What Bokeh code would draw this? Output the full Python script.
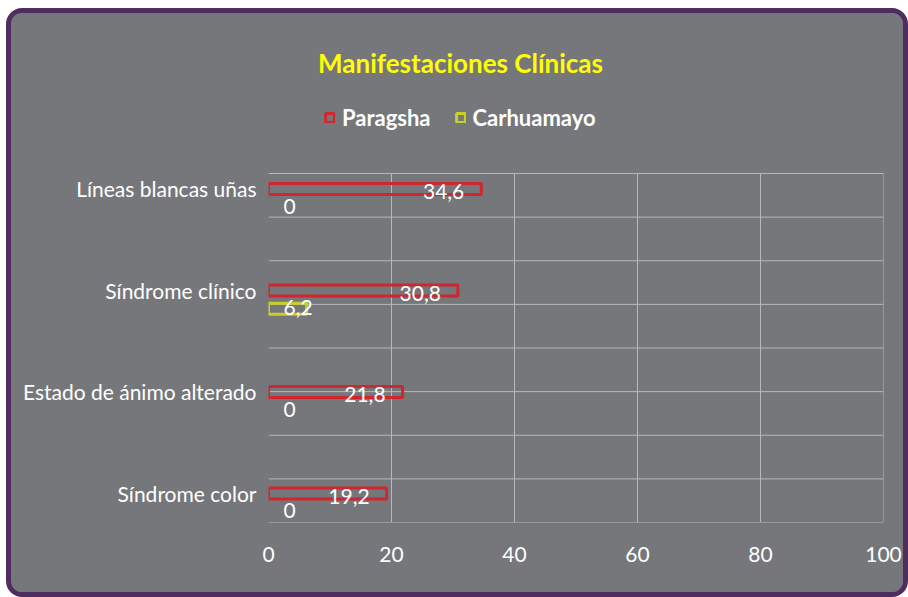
from bokeh.plotting import figure
from bokeh.models import (Range1d, FixedTicker, Grid, ColumnDataSource, Label,
                          Legend, LegendItem)
from bokeh.embed import file_html
from bokeh.resources import INLINE

# ---- data ----
categories = ["Síndrome color", "Estado de ánimo alterado", "Síndrome clínico", "Líneas blancas uñas"]
paragsha = [19.2, 21.8, 30.8, 34.6]
carhuamayo = [0, 0, 6.2, 0]
x_ticks = [0, 20, 40, 60, 80, 100]
series_names = ["Paragsha", "Carhuamayo"]
title_text = "Manifestaciones Clínicas"

# ---- style / layout ----
FONT = "Lato"
BG = "#76777b"
RED = "#d0272e"
YEL = "#c9d024"
GRID = "#b9b9bb"
W, H = 902, 589
FRAME_H = 509          # frame spans canvas top to just above the x axis labels
GRID_H = 349           # height of the gridded area at the bottom of the frame
PX_PER_CAT = 101.5
Y0 = -0.286

def fmt(v):
    return "0" if v == 0 else f"{v:.1f}".replace(".", ",")

ypos = list(range(len(categories)))
dodge = 0.18

p = figure(width=W, height=H, output_backend="svg", toolbar_location=None,
           title_location=None,
           x_range=Range1d(0, 100), y_range=Range1d(Y0, Y0 + FRAME_H / PX_PER_CAT),
           min_border_left=257, min_border_right=30, min_border_top=0,
           min_border_bottom=H - FRAME_H,
           background_fill_color=BG, border_fill_color=BG, outline_line_color=None)
p.styles = {"border": "5px solid #4f2d61", "border-radius": "16px", "overflow": "hidden",
            "margin": "8px 0 0 6px", "background-color": BG}

# default grids off
p.xgrid.visible = False
p.ygrid.visible = False
p.center = [r for r in p.center if not isinstance(r, Grid)]

# grid lines only over the lower (gridded) part of the frame
ndiv = len(categories) * 2
g_bottom = Y0
g_top = Y0 + GRID_H / PX_PER_CAT
hy = [g_bottom + k * (g_top - g_bottom) / ndiv for k in range(ndiv + 1)]
hsrc = ColumnDataSource(dict(y=hy, x0=[x_ticks[0]] * len(hy), x1=[x_ticks[-1]] * len(hy)))
p.segment(x0="x0", x1="x1", y0="y", y1="y", source=hsrc, line_color=GRID, line_width=1)
vt = x_ticks[1:]
vsrc = ColumnDataSource(dict(x=vt, y0=[g_bottom] * len(vt), y1=[g_top] * len(vt)))
p.segment(x0="x", x1="x", y0="y0", y1="y1", source=vsrc, line_color=GRID, line_width=1)

# axes
for ax in (p.xaxis[0], p.yaxis[0]):
    ax.axis_line_color = None
    ax.major_tick_line_color = None
    ax.minor_tick_line_color = None
    ax.major_tick_out = 0
    ax.major_tick_in = 0
    ax.major_label_text_color = "white"
    ax.major_label_text_font = FONT
    ax.major_label_text_font_size = "21px"
p.xaxis.ticker = FixedTicker(ticks=x_ticks)
p.xaxis.major_label_standoff = 24
p.yaxis.ticker = FixedTicker(ticks=ypos)
p.yaxis.major_label_overrides = {i: c for i, c in zip(ypos, categories)}
p.yaxis.major_label_standoff = 12

# bars
src_p = ColumnDataSource(dict(y=ypos, v=paragsha, lab=[fmt(v) for v in paragsha]))
yc = [y - dodge for y in ypos]
src_c = ColumnDataSource(dict(y=yc, v=carhuamayo, lab=[fmt(v) for v in carhuamayo]))
nz = [i for i, v in enumerate(carhuamayo) if v > 0]
src_cb = ColumnDataSource(dict(y=[yc[i] for i in nz], v=[carhuamayo[i] for i in nz]))

r1 = p.hbar(y="y", left=0, right="v", height=0.11, source=src_p,
            fill_alpha=0, line_color=RED, line_width=3)
r2 = p.hbar(y="y", left=0, right="v", height=0.11, source=src_cb,
            fill_alpha=0, line_color=YEL, line_width=3)

# data labels
p.text(x="v", y="y", text="lab", source=src_p, text_align="right", text_baseline="middle",
       x_offset=-17, y_offset=3, text_color="white", text_font={"value": FONT},
       text_font_size="21px")
p.text(x=0, y="y", text="lab", source=src_c, text_align="left", text_baseline="middle",
       x_offset=15, y_offset=-1, text_color="white", text_font={"value": FONT},
       text_font_size="21px")

# title (inside the frame, above the gridded area)
p.add_layout(Label(x=192, y=460, x_units="screen", y_units="screen", text=title_text,
                   text_align="center", text_baseline="middle", text_color="#ffff00",
                   text_font=FONT, text_font_style="bold", text_font_size="26px"))

# legend
legend = Legend(items=[LegendItem(label=series_names[0], renderers=[r1]),
                       LegendItem(label=series_names[1], renderers=[r2])],
                orientation="horizontal", location=(56, 391), padding=0, margin=0,
                spacing=24, glyph_width=11, glyph_height=11, label_standoff=7,
                label_height=20, label_text_color="white", label_text_font=FONT,
                label_text_font_style="bold", label_text_font_size="22px",
                label_text_baseline="middle",
                background_fill_alpha=0, border_line_color=None)
p.add_layout(legend)

open("out.html", "w").write(file_html(p, INLINE))
